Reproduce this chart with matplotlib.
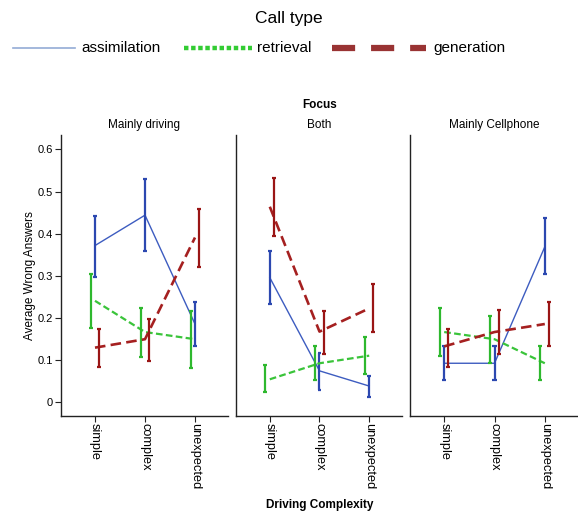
import matplotlib.pyplot as plt
from matplotlib.lines import Line2D

plt.rcParams['font.family'] = ['Liberation Sans', 'DejaVu Sans']

complexity = ['simple', 'complex', 'unexpected']
focus = ['Mainly driving', 'Both', 'Mainly Cellphone']
call_types = ['assimilation', 'retrieval', 'generation']

# mittelwerte und fehlerbalken (unten, oben) je Fokus-Panel
assim_mean = [[0.372, 0.444, 0.186], [0.296, 0.075, 0.039], [0.093, 0.093, 0.369]]
assim_lo = [[0.298, 0.358, 0.133], [0.234, 0.030, 0.012], [0.054, 0.054, 0.305]]
assim_hi = [[0.443, 0.530, 0.239], [0.360, 0.118, 0.063], [0.133, 0.133, 0.438]]

retr_mean = [[0.241, 0.167, 0.150], [0.055, 0.093, 0.111], [0.167, 0.150, 0.093]]
retr_lo = [[0.176, 0.109, 0.081], [0.024, 0.054, 0.068], [0.110, 0.093, 0.054]]
retr_hi = [[0.305, 0.225, 0.216], [0.088, 0.133, 0.155], [0.225, 0.204, 0.133]]

gen_mean = [[0.130, 0.150, 0.391], [0.464, 0.168, 0.223], [0.133, 0.167, 0.186]]
gen_lo = [[0.084, 0.099, 0.322], [0.395, 0.115, 0.166], [0.085, 0.115, 0.133]]
gen_hi = [[0.175, 0.197, 0.458], [0.533, 0.218, 0.280], [0.175, 0.219, 0.239]]

yticks = [0, 0.1, 0.2, 0.3, 0.4, 0.5, 0.6]
ytick_labels = ['0', '0.1', '0.2', '0.3', '0.4', '0.5', '0.6']

serien = [
    (assim_mean, assim_lo, assim_hi, '#3d5cc0', '#2c48b0', 0.0, dict(ls='-', lw=1.0)),
    (retr_mean, retr_lo, retr_hi, '#3ac43a', '#2eb82e', -0.09, dict(ls=(0, (3, 1.5)), lw=1.6)),
    (gen_mean, gen_lo, gen_hi, '#a52020', '#9a1515', 0.085, dict(ls=(0, (4, 2)), lw=1.9)),
]

fig = plt.figure(figsize=(5.78, 5.13), dpi=100)

positionen = [(61, 167), (236, 166), (410, 168)]
x = [0, 1, 2]

for i, (links, breite) in enumerate(positionen):
    ax = fig.add_axes([links / 578, 97 / 513, breite / 578, 281 / 513])
    for mean, lo, hi, farbe, efarbe, off, stil in serien:
        ax.plot(x, mean[i], color=farbe, **stil)
        ex = [xx + off for xx in x]
        ax.vlines(ex, lo[i], hi[i], color=efarbe, lw=1.6)
        ax.hlines(lo[i], [e - 0.04 for e in ex], [e + 0.04 for e in ex], color=efarbe, lw=1.6)
        ax.hlines(hi[i], [e - 0.04 for e in ex], [e + 0.04 for e in ex], color=efarbe, lw=1.6)
    ax.set_xlim(-0.68, 2.66)
    ax.set_ylim(-0.032, 0.634)
    ax.spines['top'].set_visible(False)
    ax.spines['right'].set_visible(False)
    for s in ['left', 'bottom']:
        ax.spines[s].set_color('#222222')
        ax.spines[s].set_linewidth(1.0)
    ax.set_xticks(x)
    ax.set_xticklabels(complexity, rotation=270, fontsize=9.2)
    ax.tick_params(axis='x', length=4, pad=1, color='#222222')
    if i == 0:
        ax.set_yticks(yticks)
        ax.set_yticklabels(ytick_labels, fontsize=8)
        ax.tick_params(axis='y', length=4, pad=2, color='#222222')
        ax.set_ylabel('Average Wrong Answers', fontsize=8.5, labelpad=1)
    else:
        ax.set_yticks([])
    ax.set_title(focus[i], fontsize=8.5, pad=5)

fig.text(320 / 578, 1 - 105 / 513, 'Focus', ha='center', va='center',
         fontsize=8.5, fontweight='bold')
fig.text(320 / 578, 1 - 505 / 513, 'Driving Complexity', ha='center', va='center',
         fontsize=8.5, fontweight='bold')

# Legende oben
fig.text(289 / 578, 1 - 18 / 513, 'Call type', ha='center', va='center', fontsize=12.5)
leg_y = 1 - 48 / 513
fig.add_artist(Line2D([13 / 578, 75 / 578], [leg_y, leg_y], color='#93abd6', lw=1.2))
fig.text(81 / 578, leg_y, call_types[0], va='center', fontsize=11)
fig.add_artist(Line2D([184 / 578, 252 / 578], [leg_y, leg_y], color='#33cc33', lw=3.2,
                      ls=(0, (1.0, 0.6))))
fig.text(257 / 578, leg_y, call_types[1], va='center', fontsize=11)
fig.add_artist(Line2D([332 / 578, 426 / 578], [leg_y, leg_y], color='#993333', lw=4.5,
                      ls=(0, (3.7, 2.55)), solid_capstyle='butt', dash_capstyle='butt'))
fig.text(433 / 578, leg_y, call_types[2], va='center', fontsize=11)

fig.savefig('out.png', dpi=100)
